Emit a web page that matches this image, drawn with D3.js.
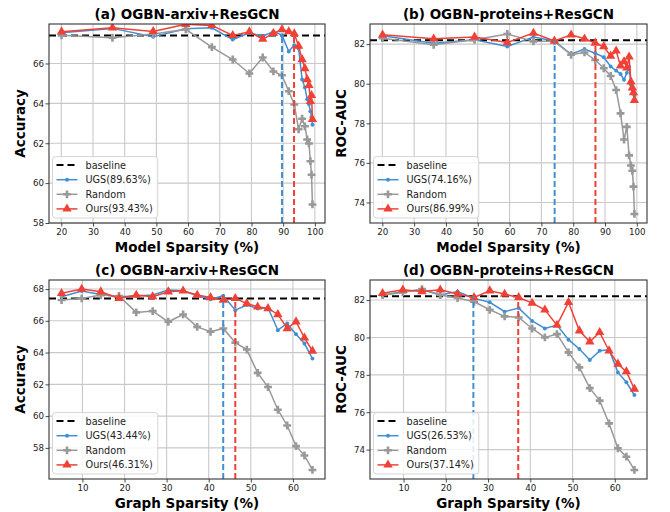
<!DOCTYPE html>
<html>
<head>
<meta charset="utf-8">
<script src="https://cdn.jsdelivr.net/npm/d3@7"></script>
<style>
  html, body { margin: 0; padding: 0; background: #fff; }
  svg { display: block; font-family: "DejaVu Sans", sans-serif; }
</style>
</head>
<body>
<svg id="fig" width="670" height="512"></svg>
<script>
// Sparsity levels reached after each pruning round
const modelSparsity = [20.08, 36.14, 48.99, 59.27, 67.5, 74.08, 79.34, 83.55, 86.92, 89.61,
                       91.77, 93.5, 94.88, 95.98, 96.86, 97.57, 98.14, 98.59, 98.95, 99.24];
const graphSparsity = [5.04, 9.83, 14.37, 18.69, 22.79, 26.69, 30.4, 33.92, 37.26, 40.44,
                       43.45, 46.31, 49.04, 51.62, 54.08, 56.42, 58.64, 60.74, 62.74, 64.64];

// (a) OGBN-arxiv, model sparsity
const arxivModelUGS    = [67.54, 67.76, 67.34, 67.74, 67.79, 67.2, 67.54, 67.37, 67.6, 67.42,
                          66.6, 66.92, 66.75, 65.2, 64.8, 64.2, 63.95, 63.6, 63.3, 62.93];
const arxivModelRandom = [67.41, 67.29, 67.48, 67.71, 66.82, 66.2, 65.5, 66.3, 65.6, 65.41,
                          64.61, 63.94, 62.7, 63.23, 62.85, 62.19, 61.99, 61.1, 60.42, 58.93];
const arxivModelOurs   = [67.59, 67.79, 67.61, 67.97, 67.91, 67.41, 67.59, 67.22, 67.51, 67.7,
                          67.6, 67.5, 66.87, 66.2, 65.75, 65.2, 64.9, 64.1, 64.4, 63.2];

// (b) OGBN-proteins, model sparsity
const proteinsModelUGS    = [82.42, 82.05, 82.22, 81.88, 82.36, 82.16, 81.49, 81.75, 81.54, 81.34,
                             80.87, 80.66, 80.49, 80.2, 80.55, 80.85, 79.95, 79.7, 79.55, 79.42];
const proteinsModelRandom = [82.3, 81.97, 82.22, 82.51, 82.14, 82.14, 81.46, 81.58, 81.2, 80.78,
                             80.39, 79.68, 78.5, 77.18, 77.82, 76.38, 75.87, 75.6, 74.8, 73.42];
const proteinsModelOurs   = [82.47, 82.27, 82.36, 82.08, 82.56, 82.16, 82.47, 82.27, 82.06, 81.88,
                             81.4, 81.66, 80.9, 81.12, 80.8, 81.36, 80.1, 79.8, 79.55, 79.16];

// (c) OGBN-arxiv, graph sparsity
const arxivGraphUGS    = [67.52, 67.87, 67.66, 67.52, 67.56, 67.62, 67.94, 67.89, 67.58, 67.35,
                          67.58, 66.67, 66.99, 66.78, 66.82, 65.41, 65.83, 65.16, 64.57, 63.62];
const arxivGraphRandom = [67.31, 67.41, 67.62, 67.56, 66.53, 66.61, 65.94, 66.4, 65.62, 65.31,
                          65.52, 64.63, 64.19, 62.72, 61.83, 60.4, 59.41, 58.11, 57.52, 56.61];
const arxivGraphOurs   = [67.73, 68.0, 67.83, 67.41, 67.62, 67.52, 67.83, 67.89, 67.62, 67.47,
                          67.31, 67.41, 67.09, 66.88, 66.78, 66.4, 65.52, 65.94, 64.93, 64.1];

// (d) OGBN-proteins, graph sparsity
const proteinsGraphUGS    = [82.27, 82.45, 82.55, 82.27, 82.46, 82.09, 81.88, 81.38, 81.57, 80.88,
                             80.48, 80.66, 79.88, 79.38, 78.79, 79.29, 79.34, 78.13, 77.6, 76.92];
const proteinsGraphRandom = [82.27, 82.41, 82.59, 82.27, 82.11, 81.91, 81.48, 81.13, 81.07, 80.48,
                             80.0, 80.18, 79.2, 78.4, 77.29, 76.62, 75.4, 74.07, 73.62, 72.91];
const proteinsGraphOurs   = [82.36, 82.55, 82.46, 82.55, 82.32, 82.14, 82.5, 82.32, 82.14, 81.84,
                             81.48, 80.66, 81.88, 80.36, 79.77, 80.27, 79.29, 78.58, 78.17, 77.24];

// Panel titles, axis labels, dense baselines and the sparsity at which each method
// last matches the baseline
const panelTitles  = ["(a) OGBN-arxiv+ResGCN", "(b) OGBN-proteins+ResGCN",
                      "(c) OGBN-arxiv+ResGCN", "(d) OGBN-proteins+ResGCN"];
const xLabels      = ["Model Sparsity (%)", "Model Sparsity (%)", "Graph Sparsity (%)", "Graph Sparsity (%)"];
const yLabels      = ["Accuracy", "ROC-AUC", "Accuracy", "ROC-AUC"];
const baselines    = [67.4, 82.2, 67.4, 82.2];
const ugsPoints    = [89.63, 74.16, 43.44, 26.53];
const oursPoints   = [93.43, 86.99, 46.31, 37.14];
const xTickValues  = [[20, 30, 40, 50, 60, 70, 80, 90, 100], [20, 30, 40, 50, 60, 70, 80, 90, 100],
                      [10, 20, 30, 40, 50, 60], [10, 20, 30, 40, 50, 60]];
const yTickValues  = [[58, 60, 62, 64, 66, 68], [74, 76, 78, 80, 82],
                      [58, 60, 62, 64, 66, 68], [74, 76, 78, 80, 82]];
const fixedYRange  = [[58, 67.98], null, null, null];

const colors = { baseline: "#000000", ugs: "#3f8fd2", random: "#999999", ours: "#ef4136" };

const panels = [
  { x: modelSparsity, ugs: arxivModelUGS, random: arxivModelRandom, ours: arxivModelOurs },
  { x: modelSparsity, ugs: proteinsModelUGS, random: proteinsModelRandom, ours: proteinsModelOurs },
  { x: graphSparsity, ugs: arxivGraphUGS, random: arxivGraphRandom, ours: arxivGraphOurs },
  { x: graphSparsity, ugs: proteinsGraphUGS, random: proteinsGraphRandom, ours: proteinsGraphOurs }
];

// Axes rectangles: [left, top, width, height]
const boxes = [[49, 24, 276, 199], [370, 24, 277, 199], [49, 280, 276, 199], [370, 280, 277, 199]];

const svg = d3.select("#fig");
svg.append("rect").attr("width", 670).attr("height", 512).attr("fill", "#fff");

// Autoscale with 5% padding on each side
function padded(vals) {
  const [lo, hi] = d3.extent(vals);
  const m = (hi - lo) * 0.05;
  return [lo - m, hi + m];
}

panels.forEach((p, i) => {
  const [L, T, W, H] = boxes[i];
  const g = svg.append("g").attr("transform", `translate(${L},${T})`);

  const x = d3.scaleLinear().domain(padded(p.x)).range([0, W]);
  const yDom = fixedYRange[i] || padded([...p.ugs, ...p.random, ...p.ours]);
  const y = d3.scaleLinear().domain(yDom).range([H, 0]);

  const clipId = "clip" + i;
  g.append("clipPath").attr("id", clipId).append("rect").attr("width", W).attr("height", H);

  const xt = xTickValues[i].filter(v => v >= x.domain()[0] && v <= x.domain()[1]);
  const yt = yTickValues[i].filter(v => v >= y.domain()[0] && v <= y.domain()[1]);

  // grid
  g.append("g").selectAll("line").data(xt).join("line")
    .attr("x1", d => x(d)).attr("x2", d => x(d)).attr("y1", 0).attr("y2", H)
    .attr("stroke", "#c9c9c9").attr("stroke-width", 1.1);
  g.append("g").selectAll("line").data(yt).join("line")
    .attr("y1", d => y(d)).attr("y2", d => y(d)).attr("x1", 0).attr("x2", W)
    .attr("stroke", "#c9c9c9").attr("stroke-width", 1.1);

  // axes
  const xAxis = g.append("g").attr("transform", `translate(0,${H})`)
    .call(d3.axisBottom(x).tickValues(xt).tickSize(3.5).tickPadding(2.5).tickFormat(d3.format("d")));
  const yAxis = g.append("g")
    .call(d3.axisLeft(y).tickValues(yt).tickSize(3.5).tickPadding(1.5).tickFormat(d3.format("d")));
  [xAxis, yAxis].forEach(a => {
    a.select(".domain").remove();
    a.selectAll("line").attr("stroke", "#333").attr("stroke-width", 0.9);
    a.selectAll("text").attr("font-family", "DejaVu Sans").attr("font-size", 8.7).attr("fill", "#222");
  });

  const plot = g.append("g").attr("clip-path", `url(#${clipId})`);

  // baseline
  plot.append("line")
    .attr("x1", 0).attr("x2", W).attr("y1", y(baselines[i])).attr("y2", y(baselines[i]))
    .attr("stroke", colors.baseline).attr("stroke-width", 2).attr("stroke-dasharray", "7,4");

  const line = d3.line().x(d => x(d[0])).y(d => y(d[1]));
  const series = [
    { key: "ugs", vals: p.ugs, symbol: d3.symbolCircle, size: 12 },
    { key: "random", vals: p.random, symbol: d3.symbolCross, size: 34 },
    { key: "ours", vals: p.ours, symbol: d3.symbolTriangle, size: 38 }
  ];
  series.forEach(s => {
    const pts = p.x.map((xv, k) => [xv, s.vals[k]]);
    plot.append("path").datum(pts).attr("d", line)
      .attr("fill", "none").attr("stroke", colors[s.key]).attr("stroke-width", 1.5);
    plot.append("g").selectAll("path").data(pts).join("path")
      .attr("transform", d => `translate(${x(d[0])},${y(d[1])})`)
      .attr("d", d3.symbol().type(s.symbol).size(s.size))
      .attr("fill", colors[s.key]);
  });

  // sparsity markers: vertical dashed lines from the bottom up to the baseline
  [[ugsPoints[i], colors.ugs], [oursPoints[i], colors.ours]].forEach(([v, c]) => {
    plot.append("line")
      .attr("x1", x(v)).attr("x2", x(v)).attr("y1", H).attr("y2", y(baselines[i]))
      .attr("stroke", c).attr("stroke-width", 2).attr("stroke-dasharray", "6,3");
  });

  // frame
  g.append("rect").attr("width", W).attr("height", H)
    .attr("fill", "none").attr("stroke", "#333").attr("stroke-width", 1.1);

  // title and labels
  g.append("text").attr("x", W / 2).attr("y", -5).attr("text-anchor", "middle")
    .attr("font-size", 13.5).attr("font-weight", "bold").text(panelTitles[i]);
  g.append("text").attr("x", W / 2).attr("y", H + 29).attr("text-anchor", "middle")
    .attr("font-size", 13.5).attr("font-weight", "bold").text(xLabels[i]);
  g.append("text").attr("transform", `translate(-24,${H / 2}) rotate(-90)`)
    .attr("text-anchor", "middle").attr("font-size", 13.5).attr("font-weight", "bold").text(yLabels[i]);

  // legend
  const entries = [
    { label: "baseline", color: colors.baseline, dash: "7,4", symbol: null },
    { label: `UGS(${ugsPoints[i].toFixed(2)}%)`, color: colors.ugs, dash: null, symbol: d3.symbolCircle, size: 12 },
    { label: "Random", color: colors.random, dash: null, symbol: d3.symbolCross, size: 34 },
    { label: `Ours(${oursPoints[i].toFixed(2)}%)`, color: colors.ours, dash: null, symbol: d3.symbolTriangle, size: 38 }
  ];
  const lg = g.append("g");
  const rowH = 14.6, boxH = rowH * 4 + 3;
  const bx = 3.5, by = H - 5 - boxH;
  const frame = lg.append("rect").attr("x", bx).attr("y", by).attr("height", boxH)
    .attr("rx", 3).attr("fill", "#fff").attr("fill-opacity", 0.85)
    .attr("stroke", "#d0d0d0").attr("stroke-width", 0.9);
  let maxW = 0;
  entries.forEach((e, k) => {
    const cy = by + 8.5 + k * rowH;
    lg.append("line").attr("x1", bx + 4).attr("x2", bx + 25).attr("y1", cy).attr("y2", cy)
      .attr("stroke", e.color).attr("stroke-width", e.dash ? 2 : 1.5)
      .attr("stroke-dasharray", e.dash);
    if (e.symbol) {
      lg.append("path").attr("transform", `translate(${bx + 14.5},${cy})`)
        .attr("d", d3.symbol().type(e.symbol).size(e.size)).attr("fill", e.color);
    }
    const t = lg.append("text").attr("x", bx + 33).attr("y", cy + 3.5)
      .attr("font-size", 9.7).attr("fill", "#222").text(e.label);
    maxW = Math.max(maxW, t.node().getComputedTextLength());
  });
  frame.attr("width", 33 + maxW + 5);
});
</script>
</body>
</html>
